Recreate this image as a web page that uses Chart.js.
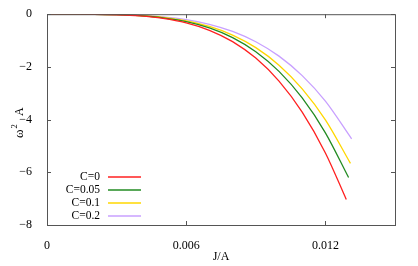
<!DOCTYPE html>
<html>
<head>
<meta charset="utf-8">
<script src="https://cdn.jsdelivr.net/npm/chart.js@4"></script>
<style>
  html, body { margin: 0; padding: 0; background: #fff; }
  #wrap { width: 418px; height: 266px; }
</style>
</head>
<body>
<div id="wrap"><canvas id="chart" width="418" height="266"></canvas></div>
<script>
// J/A sample points (x) and omega^2 A values
const jRed    = [0, 0.001, 0.002, 0.003, 0.004, 0.005, 0.006, 0.007, 0.008, 0.009, 0.010, 0.011, 0.012, 0.0129];
const jGreen  = [0, 0.001, 0.002, 0.003, 0.004, 0.005, 0.006, 0.007, 0.008, 0.009, 0.010, 0.011, 0.012, 0.0130];
const jYellow = [0, 0.001, 0.002, 0.003, 0.004, 0.005, 0.006, 0.007, 0.008, 0.009, 0.010, 0.011, 0.012, 0.01308];
const jPurple = [0, 0.001, 0.002, 0.003, 0.004, 0.005, 0.006, 0.007, 0.008, 0.009, 0.010, 0.011, 0.012, 0.01313];

const wRed    = [0, -0.0003, -0.004, -0.021, -0.065, -0.159, -0.329, -0.610, -1.040, -1.666, -2.539, -3.717, -5.265, -7.03];
const wGreen  = [0, -0.0002, -0.0035, -0.018, -0.056, -0.136, -0.281, -0.521, -0.889, -1.424, -2.171, -3.179, -4.502, -6.20];
const wYellow = [0, -0.0002, -0.0031, -0.016, -0.050, -0.121, -0.251, -0.464, -0.792, -1.269, -1.934, -2.832, -4.010, -5.66];
const wPurple = [0, -0.0002, -0.0025, -0.013, -0.041, -0.0995, -0.206, -0.382, -0.652, -1.045, -1.592, -2.331, -3.301, -4.73];

const labels = ['C=0', 'C=0.05', 'C=0.1', 'C=0.2'];
const colors = ['#ff2020', '#228b22', '#ffd700', '#c8a0ff'];

const xTicks = [0, 0.006, 0.012];
const yTicks = [0, -2, -4, -6, -8];

const serif = '"Liberation Serif", "DejaVu Serif", serif';
const axisColor = '#555';

function pts(xs, ys) {
  return xs.map((x, i) => ({ x: x, y: ys[i] }));
}

// gnuplot style: full box, inward ticks on all sides, legend inside bottom-left
const boxPlugin = {
  id: 'box',
  afterDraw(chart) {
    const ctx = chart.ctx;
    const a = chart.chartArea;
    const xs = chart.scales.x, ys = chart.scales.y;
    ctx.save();
    ctx.strokeStyle = axisColor;
    ctx.lineWidth = 1;
    ctx.strokeRect(a.left + 0.5, a.top + 0.5, a.right - a.left, a.bottom - a.top);
    const t = 4;
    ctx.beginPath();
    xTicks.forEach(v => {
      const px = Math.round(xs.getPixelForValue(v)) + 0.5;
      ctx.moveTo(px, a.bottom); ctx.lineTo(px, a.bottom - t);
      ctx.moveTo(px, a.top); ctx.lineTo(px, a.top + t);
    });
    yTicks.forEach(v => {
      const py = Math.round(ys.getPixelForValue(v)) + 0.5;
      ctx.moveTo(a.left, py); ctx.lineTo(a.left + t, py);
      ctx.moveTo(a.right, py); ctx.lineTo(a.right - t, py);
    });
    ctx.stroke();

    // legend
    ctx.font = '11.5px ' + serif;
    ctx.textAlign = 'right';
    ctx.textBaseline = 'middle';
    labels.forEach((lab, i) => {
      const y = 177 + i * 13;
      ctx.fillStyle = '#000';
      ctx.fillText(lab, 100, y);
      ctx.strokeStyle = colors[i];
      ctx.lineWidth = 1.3;
      ctx.beginPath();
      ctx.moveTo(108, y); ctx.lineTo(141, y);
      ctx.stroke();
    });

    // y title with superscript
    ctx.fillStyle = '#000';
    ctx.translate(20, 120);
    ctx.rotate(-Math.PI / 2);
    ctx.textAlign = 'left';
    ctx.textBaseline = 'middle';
    ctx.font = '13px ' + serif;
    ctx.fillText('ω', -18, 0);
    ctx.font = '8.5px ' + serif;
    ctx.fillText('2', -8.5, -5);
    ctx.font = '12px ' + serif;
    ctx.fillText('A', 4, 0);
    ctx.restore();
  }
};

new Chart(document.getElementById('chart'), {
  type: 'line',
  data: {
    datasets: [
      { label: labels[0], data: pts(jRed, wRed), borderColor: colors[0] },
      { label: labels[1], data: pts(jGreen, wGreen), borderColor: colors[1] },
      { label: labels[2], data: pts(jYellow, wYellow), borderColor: colors[2] },
      { label: labels[3], data: pts(jPurple, wPurple), borderColor: colors[3] }
    ].map(d => Object.assign(d, {
      borderWidth: 1.3,
      pointRadius: 0,
      fill: false,
      cubicInterpolationMode: 'monotone'
    }))
  },
  options: {
    responsive: false,
    animation: false,
    layout: { padding: { top: 13, right: 23, left: 0, bottom: 0 } },
    plugins: { legend: { display: false }, tooltip: { enabled: false } },
    scales: {
      x: {
        type: 'linear',
        min: 0,
        max: 0.015,
        grid: { display: false },
        border: { display: false },
        afterBuildTicks: s => { s.ticks = xTicks.map(v => ({ value: v })); },
        afterFit: s => { s.height = 41; },
        ticks: {
          color: '#000',
          font: { family: serif, size: 12 },
          padding: 6,
          maxRotation: 0,
          callback: v => String(v)
        },
        title: {
          display: true,
          text: 'J/A',
          color: '#000',
          font: { family: serif, size: 12 },
          padding: { top: 0, bottom: 2 }
        }
      },
      y: {
        min: -8,
        max: 0,
        grid: { display: false },
        border: { display: false },
        afterBuildTicks: s => { s.ticks = yTicks.map(v => ({ value: v })); },
        afterFit: s => { s.width = 47; },
        ticks: {
          color: '#000',
          font: { family: serif, size: 12 },
          padding: 7,
          callback: v => (v < 0 ? '\u2212' + Math.abs(v) : String(v))
        }
      }
    }
  },
  plugins: [boxPlugin]
});
</script>
</body>
</html>
